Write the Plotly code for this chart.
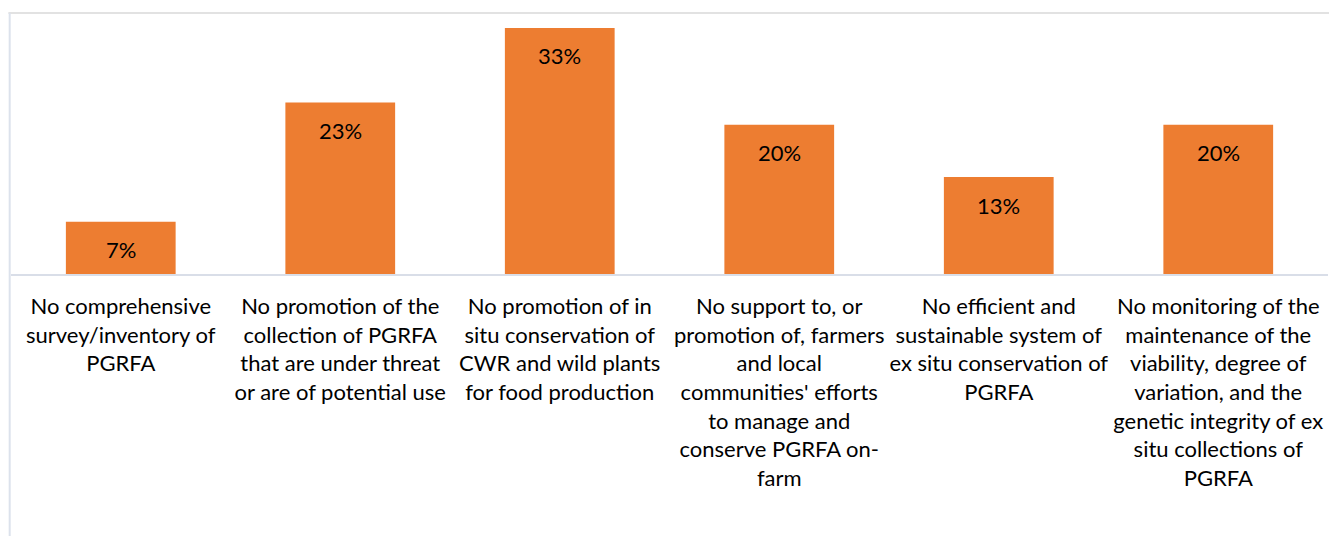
import plotly.graph_objects as go

# Gaps in PGRFA conservation reported by respondents (% of countries)
categories = [
    "No comprehensive<br>survey/inventory of<br>PGRFA",
    "No promotion of the<br>collection of PGRFA<br>that are under threat<br>or are of potential use",
    "No promotion of in<br>situ conservation of<br>CWR and wild plants<br>for food production",
    "No support to, or<br>promotion of, farmers<br>and local<br>communities' efforts<br>to manage and<br>conserve PGRFA on-<br>farm",
    "No efficient and<br>sustainable system of<br>ex situ conservation of<br>PGRFA",
    "No monitoring of the<br>maintenance of the<br>viability, degree of<br>variation, and the<br>genetic integrity of ex<br>situ collections of<br>PGRFA",
]
values = [7, 23, 33, 20, 13, 20]

FONT = "Lato"
FONT_SIZE = 22

fig = go.Figure()
fig.add_trace(go.Bar(
    x=categories,
    y=values,
    width=0.5,
    marker=dict(color="#ED7D31", line=dict(width=0)),
    hoverinfo="skip",
))

# value labels placed inside each bar, just under its top
for cat, v in zip(categories, values):
    fig.add_annotation(
        x=cat, y=v, text=f"{v}%", showarrow=False,
        yanchor="middle", yshift=-28,
        font=dict(family=FONT, size=FONT_SIZE, color="#000000"),
    )

# chart outline (top and left edges)
fig.add_shape(type="line", xref="paper", yref="paper",
              x0=-0.002, x1=1.2, y0=1.0, y1=1.0,
              line=dict(color="#D9D9D9", width=1.5))
fig.add_shape(type="line", xref="paper", yref="paper",
              x0=-0.001, x1=-0.001, y0=1.0, y1=-1.2,
              line=dict(color="#DCE2EC", width=2))

fig.update_layout(
    width=1329, height=536,
    margin=dict(l=11, r=1, t=13, b=262),
    paper_bgcolor="#FFFFFF",
    plot_bgcolor="#FFFFFF",
    showlegend=False,
    bargap=0.5,
    font=dict(family=FONT, size=FONT_SIZE, color="#000000"),
)
fig.update_xaxes(
    showline=True, linecolor="#D9DEE8", linewidth=1.5,
    ticks="", showgrid=False,
    tickfont=dict(family=FONT, size=FONT_SIZE, color="#000000"),
    ticklabelstandoff=12,
    tickangle=0,
)
fig.update_yaxes(
    range=[0, 35], visible=False, showgrid=False, zeroline=False,
)

fig.write_html("out.html")
